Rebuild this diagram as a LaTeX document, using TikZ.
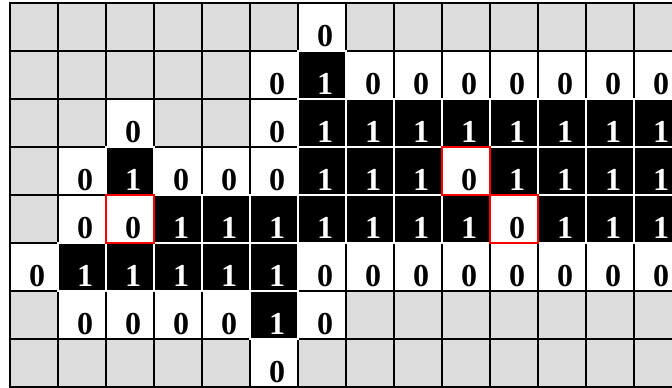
\documentclass[tikz,border=0pt]{standalone}
\usepackage{fontspec}
\setmainfont{Liberation Serif}
\definecolor{cellgrey}{HTML}{DCDCDC}
\begin{document}
\begin{tikzpicture}[x=0.75pt,y=-0.75pt,
  cell/.style={rectangle, inner sep=0pt, outer sep=0pt,
    minimum width=36pt, minimum height=36pt,
    text height=33pt, text depth=3pt,
    font=\fontsize{24}{24}\selectfont\bfseries},
  cell0/.style={cell, fill=cellgrey, draw=black, line width=1.5pt},
  cell1/.style={cell, fill=white, draw=black, line width=1.5pt},
  cell2/.style={cell, fill=black, draw=white, line width=1pt, text=white},
  cell3/.style={cell, fill=white, draw=red, line width=1.5pt}]
\path[use as bounding box, clip] (0,0) rectangle (672,388);
\fill[white] (0,0) rectangle (672,388);
\foreach \pass in {1,2,3}{
  \foreach \rowdata [count=\r from 0] in {
    {0,0,0,0,0,0,1,0,0,0,0,0,0,0},
    {0,0,0,0,0,1,2,1,1,1,1,1,1,1},
    {0,0,1,0,0,1,2,2,2,2,2,2,2,2},
    {0,1,2,1,1,1,2,2,2,3,2,2,2,2},
    {0,1,3,2,2,2,2,2,2,2,3,2,2,2},
    {1,2,2,2,2,2,1,1,1,1,1,1,1,1},
    {0,1,1,1,1,2,1,0,0,0,0,0,0,0},
    {0,0,0,0,0,1,0,0,0,0,0,0,0,0}}{
    \foreach \t [count=\c from 0] in \rowdata {
      \pgfmathtruncatemacro\tp{max(\t,1)}
      \ifnum\tp=\pass
        \node[cell\t] (c-\r-\c) at ({34+48*\c},{27+48*\r})
          {\hspace*{4.5pt}\ifcase\t\or0\or1\or0\fi};
      \fi
    }
  }
}
\end{tikzpicture}
\end{document}
